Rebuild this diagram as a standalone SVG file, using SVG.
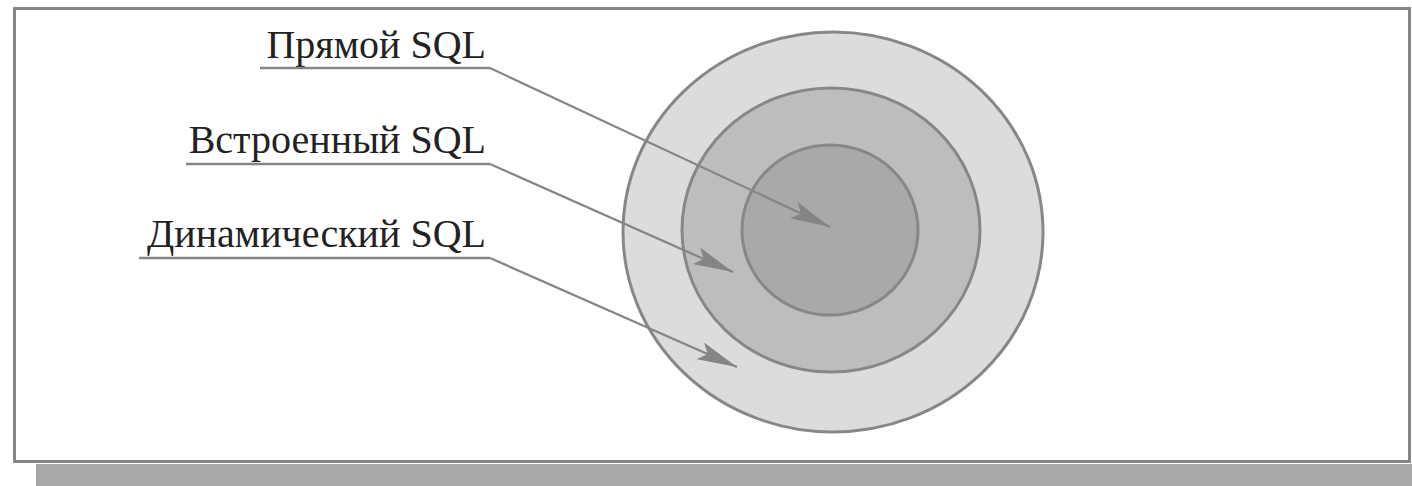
<svg xmlns="http://www.w3.org/2000/svg" width="1412" height="486" viewBox="0 0 1412 486">
<defs>
<style>
.lbl{font-family:"Liberation Serif","Times New Roman",serif;font-size:40px;fill:#222;text-anchor:end}
.ul{fill:none;stroke:#858585;stroke-width:2.5}
.con{fill:none;stroke:#858585;stroke-width:2.2}
.ring{stroke:#878787;stroke-width:3}
</style>
<marker id="ah" markerUnits="userSpaceOnUse" viewBox="0 0 40 20" refX="40" refY="10" markerWidth="40" markerHeight="20" orient="auto">
<path d="M0,1 L40,10 L0,19 L8,10 Z" fill="#858585"/>
</marker>
</defs>
<rect x="36" y="464" width="1376" height="22" fill="#a8a8a8"/>
<rect x="14.5" y="8.5" width="1395" height="453" fill="#fff" stroke="#858585" stroke-width="3"/>
<g id="outer"><ellipse class="ring" cx="833" cy="232" rx="210" ry="200" fill="#dcdcdc"/></g>
<g id="middle"><ellipse class="ring" cx="831" cy="230" rx="149" ry="142" fill="#bdbdbd"/></g>
<g id="inner"><ellipse class="ring" cx="830" cy="230" rx="88" ry="85" fill="#a9a9a9"/></g>
<g id="label-direct"><text class="lbl" x="486" y="58">Прямой SQL</text></g>
<g id="label-embedded"><text class="lbl" x="486" y="153">Встроенный SQL</text></g>
<g id="label-dynamic"><text class="lbl" x="486" y="247">Динамический SQL</text></g>
<g id="connectors">
<path class="ul" d="M260,68 L490,68"/>
<path class="ul" d="M186,164 L490,164"/>
<path class="ul" d="M139,258 L490,258"/>
<path class="con" d="M490,68 L830,227" marker-end="url(#ah)"/>
<path class="con" d="M490,164 L733,272" marker-end="url(#ah)"/>
<path class="con" d="M490,258 L737,367" marker-end="url(#ah)"/>
</g>
</svg>
